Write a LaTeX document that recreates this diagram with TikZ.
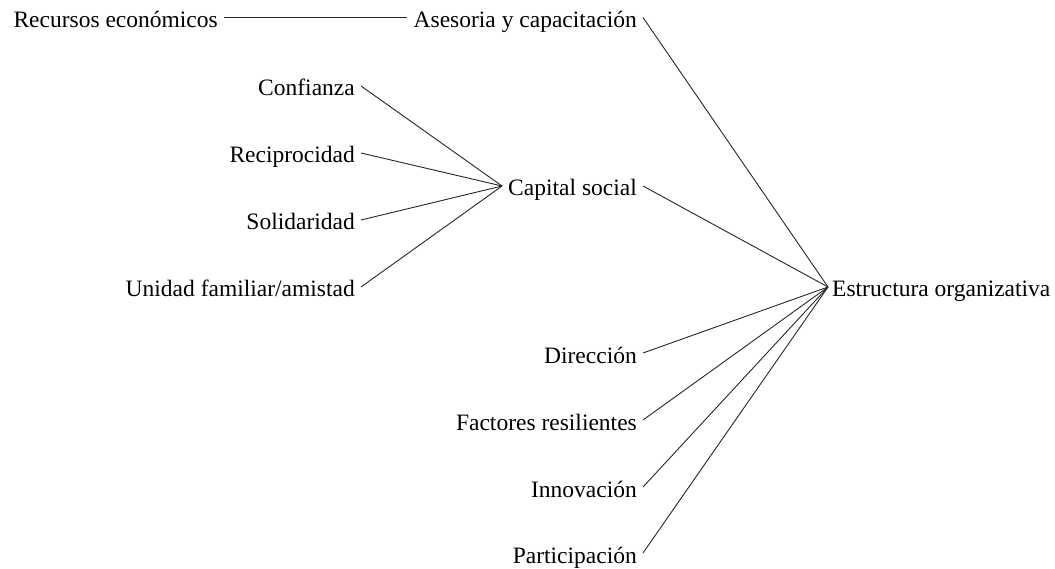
\documentclass[tikz,border=0pt]{standalone}
\usepackage{fontspec}
\setmainfont{Liberation Serif}
\begin{document}
\begin{tikzpicture}[x=1pt,y=-1pt,
  lab/.style={inner xsep=6pt,inner ysep=0pt,text height=20pt,text depth=0pt,font=\fontsize{23.5}{28}\selectfont},
  hub/.style={lab,inner xsep=4pt},
  conn/.style={draw=black!85,line width=0.9pt}]
\useasboundingbox (0,0) rectangle (1055,569);
\node[lab,anchor=east] (rec) at (224,17.5) {Recursos económicos};
\node[lab,anchor=east] (ase) at (643,17.5) {Asesoria y capacitación};
\node[lab,anchor=east] (conf) at (361,86) {Confianza};
\node[lab,anchor=east] (recip) at (361,153) {Reciprocidad};
\node[lab,anchor=east] (sol) at (361,220) {Solidaridad};
\node[lab,anchor=east] (uni) at (361,287) {Unidad familiar/amistad};
\node[lab,anchor=east] (cs) at (643,186) {Capital social};
\node[hub,anchor=west] (est) at (828,287) {Estructura organizativa};
\node[lab,anchor=east] (dir) at (643,353) {Dirección};
\node[lab,anchor=east] (fac) at (643,420) {Factores resilientes};
\node[lab,anchor=east] (inn) at (643,487) {Innovación};
\node[lab,anchor=east] (par) at (643,553) {Participación};
\draw[conn] (rec.east) -- (ase.west);
\foreach \n in {conf,recip,sol,uni} \draw[conn] (\n.east) -- (cs.west);
\foreach \n in {ase,cs,dir,fac,inn,par} \draw[conn] (\n.east) -- (est.west);
\end{tikzpicture}
\end{document}
